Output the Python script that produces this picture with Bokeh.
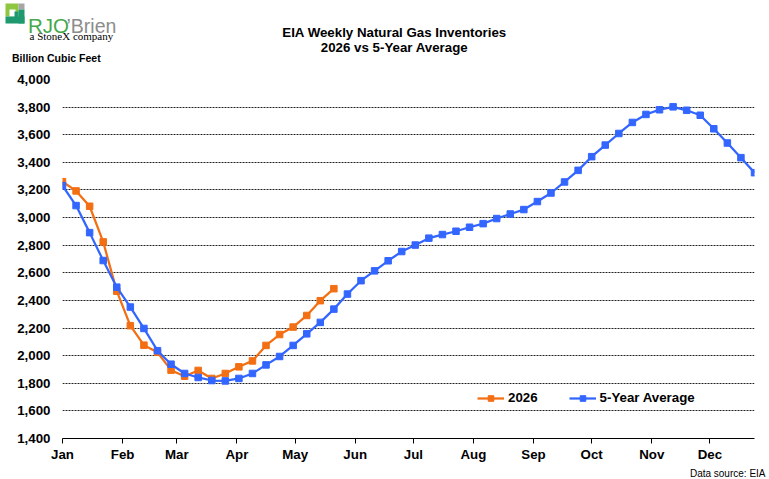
from bokeh.plotting import figure
from bokeh.layouts import column
from bokeh.models import (Range1d, FixedTicker, NumeralTickFormatter,
                          Legend, LegendItem, Plot)
from bokeh.core.properties import value
from bokeh.embed import file_html
from bokeh.resources import INLINE

# ---------------- data ----------------
weeks = list(range(52))  # weekly reports, week 0 = first week of January
series_2026 = [3260, 3193, 3082, 2824, 2467, 2217, 2076, 2024, 1895, 1851,
               1893, 1835, 1871, 1919, 1962, 2074, 2153, 2207, 2291, 2398,
               2485]
series_5yr = [3231, 3087, 2891, 2689, 2496, 2352, 2197, 2036, 1938, 1871,
              1842, 1820, 1817, 1835, 1871, 1933, 1994, 2074, 2158, 2241,
              2337, 2446, 2543, 2614, 2687, 2754, 2801, 2851, 2877, 2901,
              2930, 2956, 2993, 3026, 3058, 3116, 3178, 3258, 3342, 3441,
              3525, 3609, 3689, 3747, 3781, 3802, 3777, 3741, 3643, 3540,
              3434, 3325]
month_labels = ["Jan", "Feb", "Mar", "Apr", "May", "Jun",
                "Jul", "Aug", "Sep", "Oct", "Nov", "Dec"]
month_start_day = [0, 31, 59, 90, 120, 151, 181, 212, 243, 273, 304, 334]
y_ticks = list(range(1400, 4001, 200))

title_lines = ["EIA Weekly Natural Gas Inventories", "2026 vs 5-Year Average"]
y_axis_title = "Billion Cubic Feet"
source_note = "Data source: EIA"

x_2026 = [w * 7 for w in weeks[:len(series_2026)]]
x_5yr = [w * 7 for w in weeks]

ORANGE = "#F36F13"
BLUE = "#3366FF"
FONT = "Liberation Sans"
W = 769
HAS_FRAME_ALIGN = "frame_align" in Plot.properties()


def blank(height):
    f = figure(width=W, height=height, output_backend="svg",
               toolbar_location=None, x_range=Range1d(0, W),
               y_range=Range1d(height, 0), x_axis_type=None,
               y_axis_type=None, min_border=0)
    f.outline_line_color = None
    f.xgrid.visible = False
    f.ygrid.visible = False
    f.background_fill_color = "white"
    f.border_fill_color = "white"
    if HAS_FRAME_ALIGN:
        f.frame_align = False
    return f


# ---------------- header ----------------
HEAD_H = 70
head = blank(HEAD_H)
head.text(x=[394, 394], y=[31.5, 47], text=title_lines,
          text_font=value(FONT), text_font_style="bold",
          text_font_size="13.3px", text_color="black",
          text_align="center", text_baseline="alphabetic")
head.text(x=[11.5], y=[57], text=[y_axis_title], text_font=value(FONT),
          text_font_style="bold", text_font_size="10.5px", text_color="black",
          text_align="left", text_baseline="alphabetic")
# logo
head.quad(left=[5, 18, 9, 5, 18, 14], right=[18, 24, 15, 24, 24, 18],
          top=[3, 3, 9, 16, 9, 11], bottom=[16, 9, 16, 23, 23, 17],
          fill_color=["#8DC63F", "#A6A6A6", "#FFFFFF", "#1F9A70",
                      "#1F9A70", "#1F9A70"],
          line_color=None)
head.text(x=[27.5], y=[25], text=["RJO"], text_font=value(FONT),
          text_font_size="20.5px", text_color="#45A84B",
          text_align="left", text_baseline="alphabetic")
head.text(x=[66], y=[25], text=["\u2019Brien"], text_font=value(FONT),
          text_font_size="19.5px", text_color="#8C8C8C",
          text_align="left", text_baseline="alphabetic")
head.text(x=[29], y=[35.5], text=["a StoneX company"],
          text_font=value("Liberation Serif"), text_font_size="11px",
          text_color="black", text_align="left", text_baseline="alphabetic")

# ---------------- main chart ----------------
p = figure(width=W, height=396, output_backend="svg", toolbar_location=None,
           x_range=Range1d(0, 357), y_range=Range1d(1400, 4000),
           min_border_left=62, min_border_right=15, min_border_top=9,
           min_border_bottom=28)
if HAS_FRAME_ALIGN:
    p.frame_align = False
p.outline_line_color = None
p.background_fill_color = "white"
p.border_fill_color = "white"

p.xgrid.grid_line_color = None
p.ygrid.ticker = FixedTicker(ticks=y_ticks)
p.ygrid.grid_line_color = "#222222"
p.ygrid.grid_line_dash = "2 1"
p.ygrid.grid_line_width = 1

p.xaxis.ticker = FixedTicker(ticks=month_start_day)
p.xaxis.major_label_overrides = {d: m for d, m in zip(month_start_day, month_labels)}
p.xaxis.axis_line_color = "black"
p.xaxis.axis_line_width = 1
p.xaxis.major_tick_line_color = "black"
p.xaxis.major_tick_out = 5
p.xaxis.major_tick_in = 0
p.xaxis.minor_tick_line_color = None
p.xaxis.major_label_standoff = 3
p.xaxis.major_label_text_font = FONT
p.xaxis.major_label_text_font_style = "bold"
p.xaxis.major_label_text_font_size = "13.3px"
p.xaxis.major_label_text_color = "black"

p.yaxis.ticker = FixedTicker(ticks=y_ticks)
p.yaxis.formatter = NumeralTickFormatter(format="0,0")
p.yaxis.axis_line_color = None
p.yaxis.major_tick_line_color = None
p.yaxis.minor_tick_line_color = None
p.yaxis.major_tick_out = 0
p.yaxis.major_tick_in = 0
p.yaxis.major_label_standoff = 12
p.yaxis.major_label_text_font = FONT
p.yaxis.major_label_text_font_style = "bold"
p.yaxis.major_label_text_font_size = "13.3px"
p.yaxis.major_label_text_color = "black"

l1 = p.line(x_2026, series_2026, line_color=ORANGE, line_width=2.25)
m1 = p.scatter(x_2026, series_2026, marker="square", size=6.5,
               fill_color=ORANGE, line_color=ORANGE)
l2 = p.line(x_5yr, series_5yr, line_color=BLUE, line_width=2.25)
m2 = p.scatter(x_5yr, series_5yr, marker="square", size=6.5,
               fill_color=BLUE, line_color=BLUE)

legend = Legend(items=[LegendItem(label="2026", renderers=[l1, m1]),
                       LegendItem(label="5-Year Average", renderers=[l2, m2])],
                orientation="horizontal", location=(415, 33),
                padding=0, margin=0, spacing=31, glyph_width=27,
                glyph_height=14, label_height=14, label_standoff=4,
                border_line_color=None, background_fill_alpha=0,
                label_text_font=FONT, label_text_font_style="bold",
                label_text_font_size="13.3px", label_text_color="black")
p.add_layout(legend)

# ---------------- footer ----------------
FOOT_H = 13
foot = blank(FOOT_H)
foot.text(x=[765], y=[7], text=[source_note], text_font=value(FONT),
          text_font_size="10px", text_color="black", text_align="right",
          text_baseline="alphabetic")

layout = column(head, p, foot, spacing=0)
open("out.html", "w").write(file_html(layout, INLINE))
